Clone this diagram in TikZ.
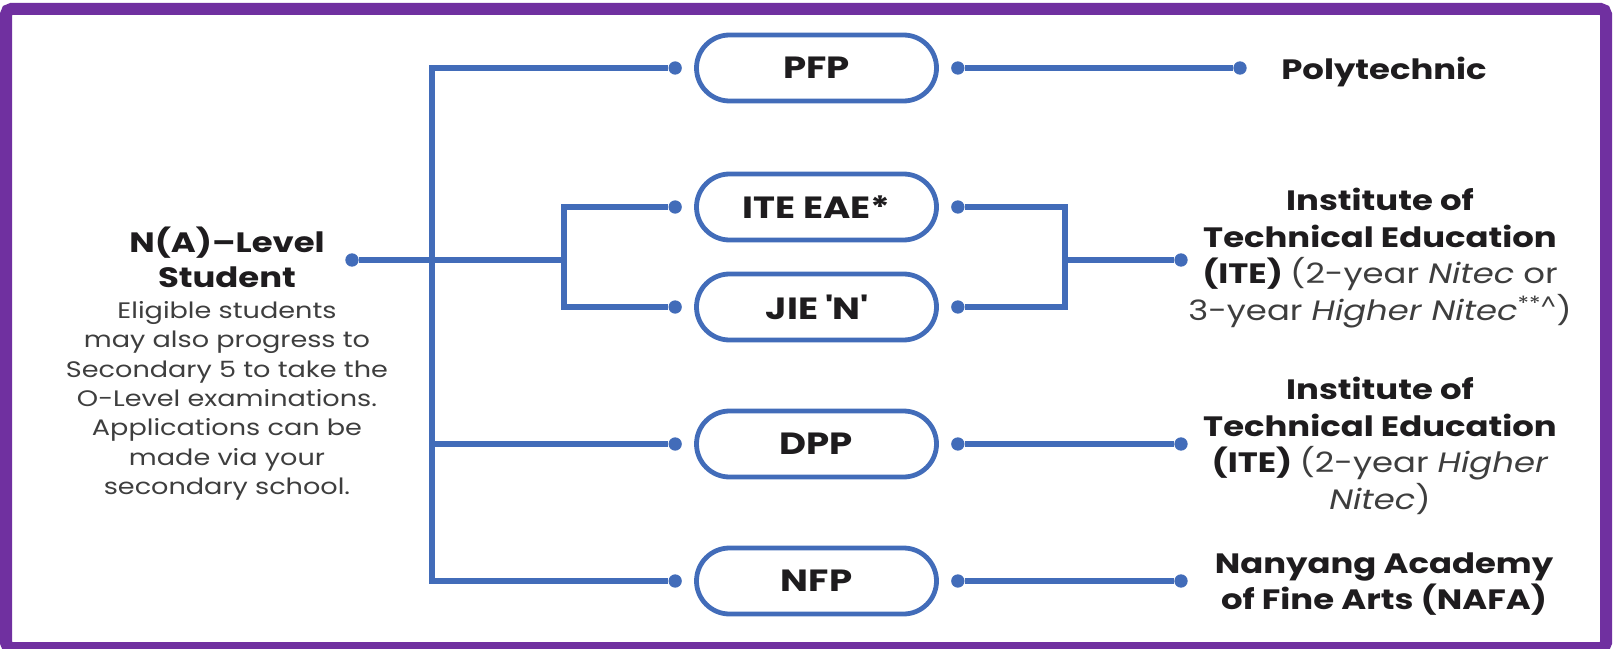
\documentclass[tikz,border=0pt]{standalone}
\usepackage{fontspec}
\setmainfont{Poppins}[FakeStretch=1.21]
\usetikzlibrary{positioning}

\definecolor{pathblue}{RGB}{66,108,185}
\definecolor{framepurple}{RGB}{112,48,160}
\definecolor{bodygrey}{RGB}{62,62,62}
\definecolor{headblack}{RGB}{30,28,30}

\newcommand{\notetext}{\mdseries\color{bodygrey}}

\begin{document}
\begin{tikzpicture}[x=0.75pt,y=0.75pt,yscale=-1,xscale=1,
    link/.style={draw=pathblue,line width=4.2pt},
    pill/.style={draw=pathblue,line width=3.6pt,rounded corners=24.75pt,minimum width=180pt,minimum height=49.5pt,inner sep=0pt,text=headblack,font={\bfseries\fontsize{23}{27}\selectfont}},
    dot/.style={circle,fill=pathblue,inner sep=0pt,minimum size=10pt},
    head/.style={align=center,text=headblack,font={\bfseries\fontsize{21}{27.5}\selectfont}},
    note/.style={align=center,text=bodygrey,font={\fontsize{16.8}{22}\selectfont}}
    ]
    \useasboundingbox (0,0) rectangle (1613,649);

    %Shape: Frame
    \draw [framepurple,line width=9pt,rounded corners=4pt] (6,9) rectangle (1606,648);

    % Pills
    \node [pill] (pfp) at (816.5,68) {PFP};
    \node [pill] (eae) at (816.5,207) {ITE EAE*};
    \node [pill] (jie) at (816.5,307) {JIE \textquotesingle N\textquotesingle};
    \node [pill] (dpp) at (816.5,444) {DPP};
    \node [pill] (nfp) at (816.5,581) {NFP};

    % Dots beside the pills
    \node [dot,left=9pt of pfp] (pfpin) {};
    \node [dot,right=9pt of pfp] (pfpout) {};
    \node [dot,left=9pt of eae] (eaein) {};
    \node [dot,right=9pt of eae] (eaeout) {};
    \node [dot,left=9pt of jie] (jiein) {};
    \node [dot,right=9pt of jie] (jieout) {};
    \node [dot,left=9pt of dpp] (dppin) {};
    \node [dot,right=9pt of dpp] (dppout) {};
    \node [dot,left=9pt of nfp] (nfpin) {};
    \node [dot,right=9pt of nfp] (nfpout) {};

    % End dots
    \node [dot] (studot) at (352,260) {};
    \node [dot] (polydot) at (1240,68) {};
    \node [dot] (itedot) at (1181,260) {};
    \node [dot] (itebdot) at (1181,444) {};
    \node [dot] (nafadot) at (1181,581) {};

    % Branch points
    \coordinate (trunk) at (432,260);
    \coordinate (split) at (564,260);
    \coordinate (merge) at (1065,260);

    %Straight Lines
    \draw [link] (pfpin) -| (trunk) |- (nfpin);
    \draw [link] (dppin) -| (trunk);
    \draw [link] (studot) -- (split);
    \draw [link] (eaein) -| (split) |- (jiein);
    \draw [link] (eaeout) -| (merge) |- (jieout);
    \draw [link] (merge) -- (itedot);
    \draw [link] (pfpout) -- (polydot);
    \draw [link] (dppout) -- (itebdot);
    \draw [link] (nfpout) -- (nafadot);

    % Text Node
    \node [head,font={\bfseries\fontsize{21}{26.25}\selectfont}] (stuhead) at (227,257) {N(A)--Level\\Student};
    % Text Node
    \node [note] (stunote) at (227,401) {Eligible students\\may also progress to\\Secondary 5 to take the\\O-Level examinations.\\Applications can be\\made via your\\secondary school.};
    % Text Node
    \node [head] (poly) at (1384,72) {Polytechnic};
    % Text Node
    \node [head] (itea) at (1380,258) {Institute of\\Technical Education\\(ITE) {\notetext(2-year \textit{Nitec} or}\\{\notetext 3-year \textit{Higher Nitec}\textsuperscript{**\textasciicircum})}};
    % Text Node
    \node [head] (iteb) at (1380,446) {Institute of\\Technical Education\\(ITE) {\notetext(2-year \textit{Higher}}\\{\notetext\textit{Nitec})}};
    % Text Node
    \node [head] (nafa) at (1384,584) {Nanyang Academy\\of Fine Arts (NAFA)};
\end{tikzpicture}
\end{document}
